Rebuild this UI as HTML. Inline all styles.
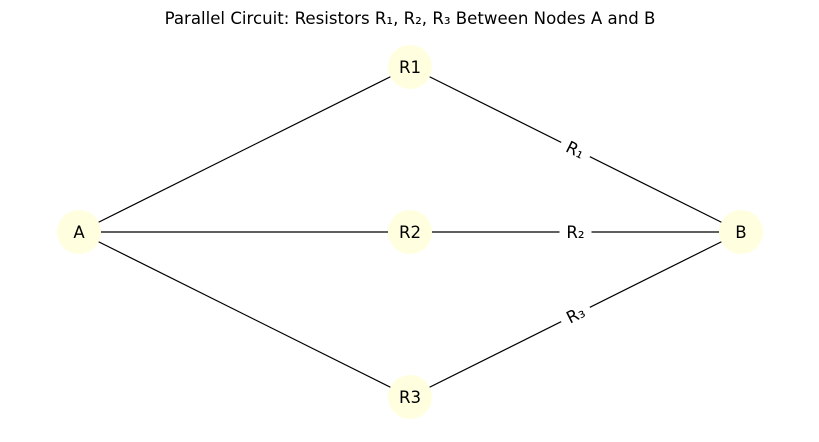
<!DOCTYPE html>
<html><head><meta charset="utf-8"><style>
html,body{margin:0;padding:0;background:#fff;}
svg{display:block;font-family:"DejaVu Sans","Liberation Sans",sans-serif;}
</style></head><body>
<svg id="chart" width="819" height="442" viewBox="0 0 819 442">
<text x="410" y="24" text-anchor="middle" font-size="16.6" fill="#000">Parallel Circuit: Resistors R₁, R₂, R₃ Between Nodes A and B</text>
<g id="edges"></g><g id="labels"></g><g id="nodes"></g>
</svg>
<script>
const nodeNames = ["A","R1","R2","R3","B"];
const nodeX = [0, 1, 1, 1, 2];
const nodeY = [0, 1, 0, -1, 0];
const edgeFrom = ["A","A","A","R1","R2","R3"];
const edgeTo = ["R1","R2","R3","B","B","B"];
const edgeLabels = ["","","","R₁","R₂","R₃"];
const sx = v => 79 + v * 331;
const sy = v => 232 - v * 165;
const NS = "http://www.w3.org/2000/svg";
const eg = document.getElementById('edges'), lg = document.getElementById('labels'), ng = document.getElementById('nodes');
function pos(n){const i=nodeNames.indexOf(n);return [sx(nodeX[i]), sy(nodeY[i])];}
edgeFrom.forEach((f,i)=>{
  const [x1,y1]=pos(f),[x2,y2]=pos(edgeTo[i]);
  const l=document.createElementNS(NS,'line');
  l.setAttribute('x1',x1);l.setAttribute('y1',y1);l.setAttribute('x2',x2);l.setAttribute('y2',y2);
  l.setAttribute('stroke','#000');l.setAttribute('stroke-width','1.2');
  
  
  eg.appendChild(l);
  if(edgeLabels[i]){
    const mx=(x1+x2)/2,my=(y1+y2)/2,ang=Math.atan2(y2-y1,x2-x1)*180/Math.PI;
    const g=document.createElementNS(NS,'g');
    g.setAttribute('transform','translate('+mx+','+my+') rotate('+ang+')');
    
    
    const r=document.createElementNS(NS,'rect');
    r.setAttribute('x',-16);r.setAttribute('y',-11);r.setAttribute('width',32);r.setAttribute('height',22);r.setAttribute('fill','#fff');
    g.appendChild(r);
    const t=document.createElementNS(NS,'text');
    t.setAttribute('text-anchor','middle');t.setAttribute('y',6);t.setAttribute('font-size','16.6');
    t.textContent=edgeLabels[i];
    g.appendChild(t);
    lg.appendChild(g);
  }
});
nodeNames.forEach((n,i)=>{
  const c=document.createElementNS(NS,'circle');
  c.setAttribute('cx',sx(nodeX[i]));c.setAttribute('cy',sy(nodeY[i]));c.setAttribute('r',22);c.setAttribute('fill','#ffffe0');
  
  
  ng.appendChild(c);
  const t=document.createElementNS(NS,'text');
  t.setAttribute('x',sx(nodeX[i]));t.setAttribute('y',sy(nodeY[i])+6);t.setAttribute('text-anchor','middle');t.setAttribute('font-size','16.6');
  t.textContent=n;
  
  
  ng.appendChild(t);
});
</script>
</body></html>
